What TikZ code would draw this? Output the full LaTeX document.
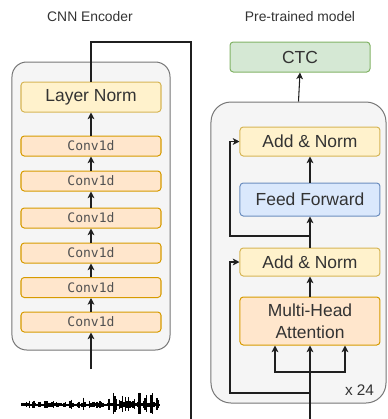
\documentclass[tikz,border=0pt]{standalone}
\usepackage{fontspec}
\setmainfont{Liberation Sans}
\newfontfamily\codefont{DejaVu Sans Mono}
\usetikzlibrary{arrows.meta}

\definecolor{txt}{HTML}{333333}
\definecolor{contfill}{HTML}{F5F5F5}
\definecolor{contline}{HTML}{777777}
\definecolor{yelfill}{HTML}{FFF2CC}
\definecolor{yelline}{HTML}{D6B656}
\definecolor{orfill}{HTML}{FFE6CC}
\definecolor{orline}{HTML}{D79B00}
\definecolor{grfill}{HTML}{D5E8D4}
\definecolor{grline}{HTML}{82B366}
\definecolor{blfill}{HTML}{DAE8FC}
\definecolor{blline}{HTML}{6C8EBF}

\tikzset{
  container/.style={draw=contline, fill=contfill, line width=0.75pt, inner sep=0pt},
  block/.style={draw, line width=0.75pt, rounded corners=2.5pt, inner sep=0pt,
    minimum width=105pt, text=txt, align=center,
    font=\fontsize{13.1}{16.5}\selectfont},
  normbox/.style={block, fill=yelfill, draw=yelline},
  convbox/.style={block, fill=orfill, draw=orline, minimum height=15pt,
    text=black!68, font=\codefont\fontsize{9.8}{11}\selectfont},
  attnbox/.style={block, fill=orfill, draw=orline},
  ctcbox/.style={block, fill=grfill, draw=grline},
  ffbox/.style={block, fill=blfill, draw=blline},
  title/.style={text=txt, font=\fontsize{10.4}{12}\selectfont},
  conn/.style={draw=black!88, line width=0.8pt},
  arr/.style={conn, -{Stealth[length=5pt, width=5pt, inset=1.3pt]}},
  wave/.style={draw=black, line width=0.9pt},
}

\begin{document}
\begin{tikzpicture}[x=0.75pt, y=-0.75pt]
\clip (0,0) rectangle (388,419);

% titles
\node[title] (t1) at (90,17) {CNN Encoder};
\node[title] (t2) at (300,17) {Pre-trained model};

% CNN encoder
\node[container, rounded corners=11pt, minimum width=118.5pt, minimum height=216pt] (enc) at (91,206) {};
\node[normbox, minimum height=22.5pt] (ln) at (91,97) {Layer Norm};
\foreach \k/\yy in {1/322, 2/287.5, 3/253, 4/218, 5/181, 6/146}
  \node[convbox] (c\k) at (91,\yy) {Conv1d};

\coordinate (win) at (91,369);
\draw[arr] (win) -- (c1.south);
\foreach \a/\b in {1/2, 2/3, 3/4, 4/5, 5/6}
  \draw[arr] (c\a.north) -- (c\b.south);
\draw[arr] (c6.north) -- (ln.south);

% waveform: spiky bursts around a centre line, louder towards the end
\pgfmathsetseed{23}
\draw[wave, line width=1.4pt] (22,405) -- (160,405);
\foreach \i in {0,...,91} {
  \pgfmathsetmacro\xx{22+1.5*\i}
  \pgfmathsetmacro\env{(\xx<80) ? 6.5 : ((\xx<112) ? 8 : 15)}
  \pgfmathsetmacro\rr{rnd}
  \pgfmathsetmacro\am{\env*(0.2+0.8*abs(sin(\xx*29)))*(0.25+0.75*\rr*\rr)}
  \draw[wave] (\xx,405-\am) -- (\xx,405+0.75*\am);
}

% pre-trained model
\node[container, rounded corners=15pt, minimum width=131.25pt, minimum height=225.75pt] (enc2) at (298.5,252.5) {};
\node[ctcbox, minimum height=22.5pt] (ctc) at (300,57) {CTC};
\node[normbox, minimum height=21.75pt] (an2) at (310,141.5) {Add \& Norm};
\node[ffbox, minimum height=24.75pt] (ff) at (310,199.5) {Feed Forward};
\node[normbox, minimum height=21pt] (an1) at (310,262) {Add \& Norm};
\node[attnbox, minimum height=36pt] (mha) at (310,321) {Multi-Head\\Attention};
\node[text=txt, font=\fontsize{11.5}{13}\selectfont] (rep) at (359.5,390) {x 24};

\draw[arr] (enc2.north) -- (ctc.south);
\draw[arr] (mha.north) -- (an1.south);
\draw[arr] (an1.north) -- (ff.south);
\draw[arr] (ff.north) -- (an2.south);

% encoder output feeding the attention block
\draw[arr] (ln.north) |- (191,42) -- (191,440) -| (mha.south);

% attention inputs
\coordinate (br) at (310,372);
\draw[arr] (br) -| ([xshift=-26.25pt]mha.south);
\draw[arr] (br) -| ([xshift=26.25pt]mha.south);

% residual connections
\coordinate (r1) at (310,393);
\draw[arr] (r1) -- (230,393) |- (an1.west);
\coordinate (r2) at (310,236);
\draw[arr] (r2) -- (230,236) |- (an2.west);
\end{tikzpicture}
\end{document}
